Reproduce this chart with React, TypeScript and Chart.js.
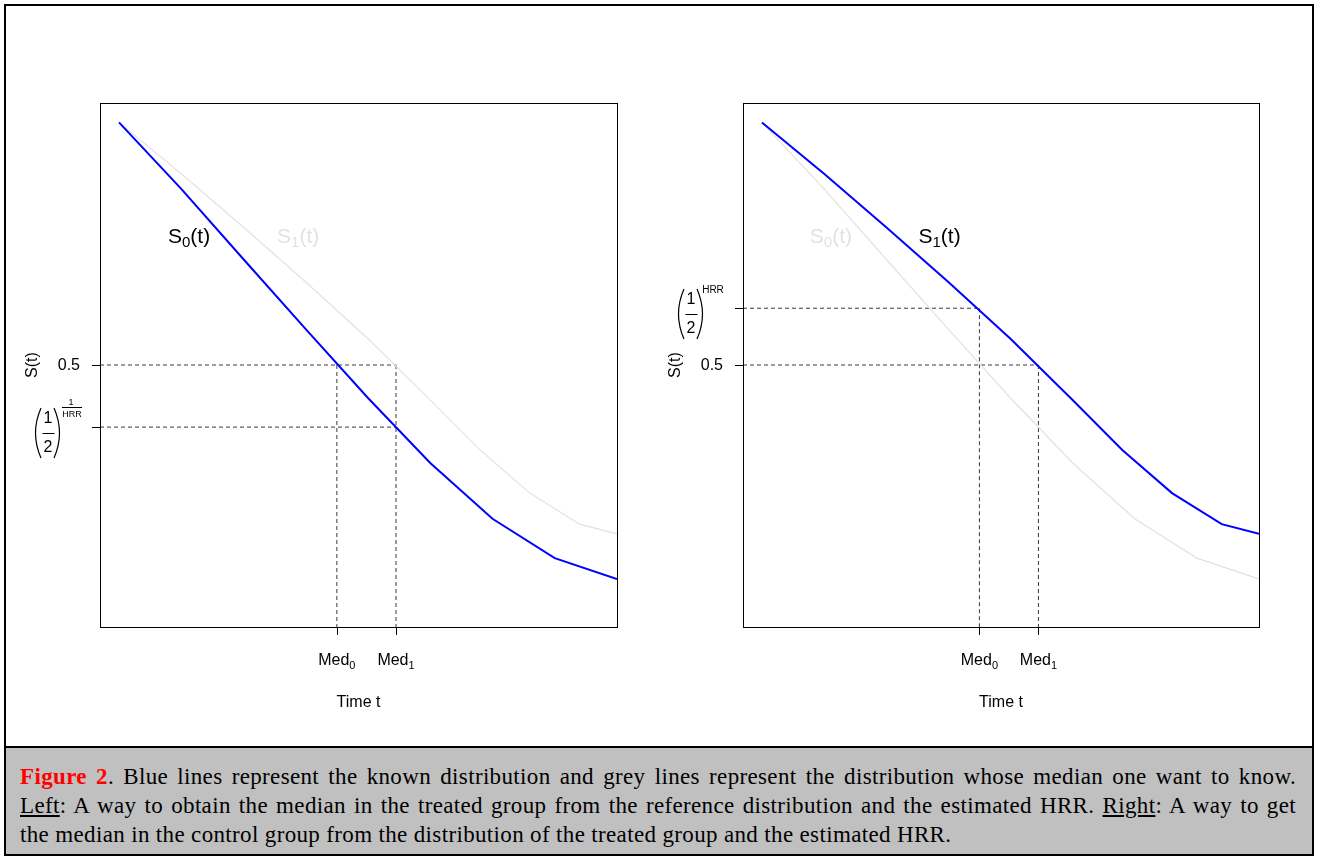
import React, { useEffect, useRef } from "react";
import { Chart, registerables } from "chart.js";

Chart.register(...registerables);

// ---------- data ----------
const timePoints = [0, 1, 2, 3, 4, 5, 6, 7, 8];
const survivalKnown = [1.0, 0.863, 0.718, 0.574, 0.432, 0.298, 0.183, 0.102, 0.059];
const timePointsOther = [0, 1, 2, 3, 4, 5, 5.8, 6.6, 7.4, 8];
const survivalOther = [1.0, 0.894, 0.784, 0.671, 0.554, 0.428, 0.325, 0.236, 0.172, 0.152];
const medianTimes = [3.5, 4.45];
const medianSubs = ["0", "1"];
const levelHalf = 0.5;
const levelInvHRR = 0.372; // (1/2)^(1/HRR)
const levelHRR = 0.617; // (1/2)^HRR
const halfTickLabel = "0.5";
const xAxisTitle = "Time t";
const yAxisTitle = "S(t)";

const xMin = -0.305;
const xMax = 8;
const yMin = -0.04;
const yMax = 1.04;

const BLUE = "#0000ff";
const GREY = "#e2e2e2";
const DASH = "#3a3a3a";
const SANS = "'Liberation Sans', Arial, sans-serif";

type Side = "left" | "right";

const seg = (x1: number, y1: number, x2: number, y2: number) => [
  { x: x1, y: y1 },
  { x: x2, y: y2 },
];

function subText(
  ctx: CanvasRenderingContext2D,
  x: number,
  base: number,
  main: string,
  sub: string,
  rest: string,
  size: number,
  subSize: number,
  subDrop: number,
  color: string,
  align: "left" | "center"
) {
  ctx.save();
  ctx.fillStyle = color;
  ctx.textBaseline = "alphabetic";
  ctx.textAlign = "left";
  ctx.font = `${size}px ${SANS}`;
  const w1 = ctx.measureText(main).width;
  const w3 = ctx.measureText(rest).width;
  ctx.font = `${subSize}px ${SANS}`;
  const w2 = ctx.measureText(sub).width;
  const total = w1 + w2 + w3;
  let x0 = align === "center" ? x - total / 2 : x;
  ctx.font = `${size}px ${SANS}`;
  ctx.fillText(main, x0, base);
  ctx.font = `${subSize}px ${SANS}`;
  ctx.fillText(sub, x0 + w1, base + subDrop);
  ctx.font = `${size}px ${SANS}`;
  ctx.fillText(rest, x0 + w1 + w2, base);
  ctx.restore();
}

function paren(ctx: CanvasRenderingContext2D, x: number, top: number, bot: number, dir: number) {
  ctx.beginPath();
  ctx.moveTo(x, top);
  ctx.quadraticCurveTo(x + dir * 11, (top + bot) / 2, x, bot);
  ctx.stroke();
}

function drawHalfFraction(ctx: CanvasRenderingContext2D, axisX: number, barY: number) {
  ctx.save();
  ctx.strokeStyle = "#000";
  ctx.fillStyle = "#000";
  ctx.lineWidth = 1.2;
  paren(ctx, axisX - 59, barY - 25, barY + 25, -1);
  paren(ctx, axisX - 46, barY - 25, barY + 25, 1);
  ctx.font = `16px ${SANS}`;
  ctx.textAlign = "center";
  ctx.textBaseline = "middle";
  ctx.fillText("1", axisX - 52, barY - 14);
  ctx.fillText("2", axisX - 52, barY + 15);
  ctx.lineWidth = 1;
  ctx.beginPath();
  ctx.moveTo(axisX - 57.5, barY + 0.5);
  ctx.lineTo(axisX - 45.5, barY + 0.5);
  ctx.stroke();
  ctx.restore();
}

const figurePlugin = {
  id: "figureDecor",
  afterDraw(chart: any) {
    const side: Side = chart.options.plugins.figureDecor.side;
    const ctx: CanvasRenderingContext2D = chart.ctx;
    const ca = chart.chartArea;
    const xs = chart.scales.x;
    const ys = chart.scales.y;
    ctx.save();
    // frame
    ctx.strokeStyle = "#000";
    ctx.lineWidth = 1;
    ctx.strokeRect(ca.left + 0.5, ca.top + 0.5, ca.right - ca.left, ca.bottom - ca.top);
    // y ticks
    const exprLevel = side === "left" ? levelInvHRR : levelHRR;
    [levelHalf, exprLevel].forEach((v) => {
      const py = Math.round(ys.getPixelForValue(v)) + 0.5;
      ctx.beginPath();
      ctx.moveTo(ca.left - 8, py);
      ctx.lineTo(ca.left, py);
      ctx.stroke();
    });
    // x ticks
    medianTimes.forEach((t) => {
      const px = Math.round(xs.getPixelForValue(t)) + 0.5;
      ctx.beginPath();
      ctx.moveTo(px, ca.bottom);
      ctx.lineTo(px, ca.bottom + 8);
      ctx.stroke();
    });
    // 0.5 label
    ctx.fillStyle = "#000";
    ctx.font = `16px ${SANS}`;
    ctx.textAlign = "right";
    ctx.textBaseline = "middle";
    ctx.fillText(halfTickLabel, ca.left - 20, ys.getPixelForValue(levelHalf) + 1);
    // y title
    ctx.save();
    ctx.translate(ca.left - 67, (ca.top + ca.bottom) / 2);
    ctx.rotate(-Math.PI / 2);
    ctx.textAlign = "center";
    ctx.textBaseline = "middle";
    ctx.fillText(yAxisTitle, 0, 0);
    ctx.restore();
    // expression label
    const ey = ys.getPixelForValue(exprLevel);
    drawHalfFraction(ctx, ca.left, Math.round(ey) + 6);
    ctx.fillStyle = "#000";
    ctx.strokeStyle = "#000";
    if (side === "left") {
      ctx.font = `9px ${SANS}`;
      ctx.textAlign = "center";
      ctx.textBaseline = "middle";
      ctx.fillText("1", ca.left - 29, ey - 25);
      ctx.lineWidth = 1;
      ctx.beginPath();
      ctx.moveTo(ca.left - 38, Math.round(ey) - 19.5);
      ctx.lineTo(ca.left - 18, Math.round(ey) - 19.5);
      ctx.stroke();
      ctx.fillText("HRR", ca.left - 28, ey - 13);
    } else {
      ctx.font = `10px ${SANS}`;
      ctx.textAlign = "center";
      ctx.textBaseline = "middle";
      ctx.fillText("HRR", ca.left - 30, ey - 18);
    }
    // x labels
    medianTimes.forEach((t, i) => {
      subText(ctx, xs.getPixelForValue(t), ca.bottom + 38, "Med", medianSubs[i], "", 16, 11, 4, "#000", "center");
    });
    ctx.font = `16px ${SANS}`;
    ctx.textAlign = "center";
    ctx.textBaseline = "alphabetic";
    ctx.fillStyle = "#000";
    ctx.fillText(xAxisTitle, (ca.left + ca.right) / 2, ca.bottom + 80);
    // curve labels
    const labBase = ys.getPixelForValue(0.751);
    const s0Color = side === "left" ? "#000" : GREY;
    const s1Color = side === "left" ? GREY : "#000";
    const s0x = side === "left" ? 0.787 : 0.771;
    const s1x = side === "left" ? 2.54 : 2.52;
    subText(ctx, xs.getPixelForValue(s0x), labBase, "S", "0", "(t)", 21, 15, 4, s0Color, "left");
    subText(ctx, xs.getPixelForValue(s1x), labBase, "S", "1", "(t)", 21, 15, 4, s1Color, "left");
    ctx.restore();
  },
};

function buildConfig(side: Side, padLeft: number, padRight: number): any {
  const known = timePoints.map((t, i) => ({ x: t, y: survivalKnown[i] }));
  const other = timePointsOther.map((t, i) => ({ x: t, y: survivalOther[i] }));
  const blueData = side === "left" ? known : other;
  const greyData = side === "left" ? other : known;
  const [med0, med1] = medianTimes;
  const dashes =
    side === "left"
      ? [
          seg(xMin, levelHalf, med1, levelHalf),
          seg(xMin, levelInvHRR, med1, levelInvHRR),
          seg(med0, levelHalf, med0, yMin),
          seg(med1, levelHalf, med1, yMin),
        ]
      : [
          seg(xMin, levelHRR, med0, levelHRR),
          seg(xMin, levelHalf, med1, levelHalf),
          seg(med0, levelHRR, med0, yMin),
          seg(med1, levelHalf, med1, yMin),
        ];
  const datasets: any[] = [
    { data: blueData, borderColor: BLUE, borderWidth: 2, pointRadius: 0, tension: 0, fill: false },
    { data: greyData, borderColor: GREY, borderWidth: 1.2, pointRadius: 0, tension: 0, fill: false },
    ...dashes.map((d) => ({
      data: d,
      borderColor: DASH,
      borderWidth: 1,
      borderDash: [4, 3],
      pointRadius: 0,
      tension: 0,
      fill: false,
    })),
  ];
  return {
    type: "line",
    data: { datasets },
    options: {
      animation: false,
      responsive: false,
      devicePixelRatio: 1,
      layout: { padding: { left: padLeft, right: padRight, top: 103, bottom: 118 } },
      scales: {
        x: { type: "linear", min: xMin, max: xMax, display: false },
        y: { type: "linear", min: yMin, max: yMax, display: false },
      },
      plugins: {
        legend: { display: false },
        tooltip: { enabled: false },
        figureDecor: { side },
      },
    },
    plugins: [figurePlugin],
  };
}

function Panel({ side, left, padLeft, padRight }: { side: Side; left: number; padLeft: number; padRight: number }) {
  const ref = useRef<HTMLCanvasElement | null>(null);
  useEffect(() => {
    if (!ref.current) return;
    const chart = new Chart(ref.current, buildConfig(side, padLeft, padRight));
    return () => chart.destroy();
  }, [side, padLeft, padRight]);
  return (
    <canvas
      ref={ref}
      width={659}
      height={745}
      style={{ position: "absolute", left, top: 0, width: 659, height: 745 }}
    />
  );
}

export default function App() {
  const serif = "'Liberation Serif', 'Times New Roman', serif";
  return (
    <div style={{ position: "absolute", left: 0, top: 0, width: 1318, height: 857, background: "#fff", overflow: "hidden" }}>
      <Panel side="left" left={0} padLeft={100} padRight={42} />
      <Panel side="right" left={659} padLeft={84} padRight={59} />
      <div
        style={{
          position: "absolute",
          left: 4,
          top: 4,
          width: 1306,
          height: 848,
          border: "2px solid #000",
          pointerEvents: "none",
        }}
      />
      <div
        style={{
          position: "absolute",
          left: 4,
          top: 746,
          width: 1306,
          height: 106,
          border: "2px solid #000",
          background: "#c0c0c0",
          fontFamily: serif,
          fontSize: 23,
          letterSpacing: "0.35px",
          lineHeight: "29px",
          color: "#000",
          boxSizing: "content-box",
        }}
      >
        <div style={{ padding: "14px 16px 0 14px" }}>
          <div style={{ textAlign: "justify", textAlignLast: "justify" as any, whiteSpace: "nowrap" as any }}>
            <span style={{ color: "#ff0000", fontWeight: "bold" }}>Figure 2</span>. Blue lines represent the known
            distribution and grey lines represent the distribution whose median one want to know.
          </div>
          <div style={{ textAlign: "justify", textAlignLast: "justify" as any }}>
            <span style={{ textDecoration: "underline" }}>Left</span>: A way to obtain the median in the treated group
            from the reference distribution and the estimated HRR. <span style={{ textDecoration: "underline" }}>Right</span>: A
            way to get
          </div>
          <div style={{ textAlign: "left" }}>
            the median in the control group from the distribution of the treated group and the estimated HRR.
          </div>
        </div>
      </div>
    </div>
  );
}
